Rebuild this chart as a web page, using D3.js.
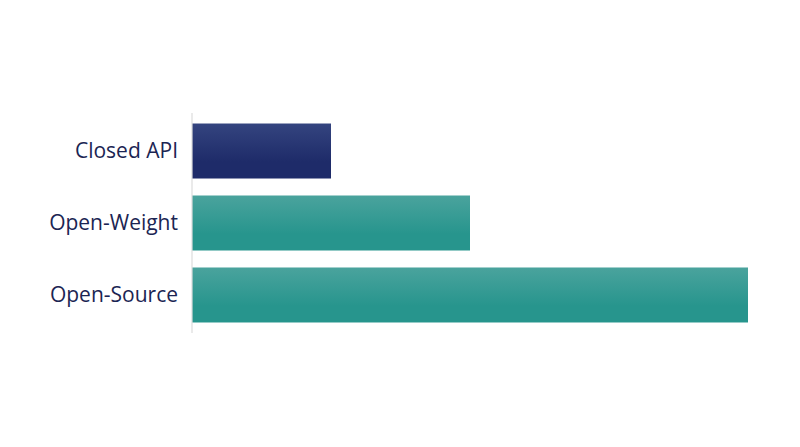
<!DOCTYPE html>
<html>
<head>
<meta charset="utf-8">
<script src="https://cdn.jsdelivr.net/npm/d3@7"></script>
<style>
  html, body { margin: 0; padding: 0; background: #fff; }
  svg { display: block; }
</style>
</head>
<body>
<div id="chart"></div>
<script>
// Chart data
var categories = ["Closed API", "Open-Weight", "Open-Source"];
var values = [1, 2, 4];
var barColors = ["#1e2b69", "#27958d", "#27958d"];
var barTops = ["#34447f", "#4aa39d", "#4aa39d"];

var width = 800, height = 447;

var svg = d3.select("#chart").append("svg")
  .attr("width", width).attr("height", height);

var x = d3.scaleLinear().domain([0, 4]).range([192, 748]);
var y = d3.scaleBand().domain(categories).range([113, 333])
  .paddingInner(0.236).paddingOuter(0.146);

// gradients, lighter at the top
var defs = svg.append("defs");
categories.forEach(function (c, i) {
  var g = defs.append("linearGradient").attr("id", "grad" + i)
    .attr("x1", 0).attr("y1", 0).attr("x2", 0).attr("y2", 1);
  g.append("stop").attr("offset", "0%").attr("stop-color", barTops[i]);
  g.append("stop").attr("offset", "70%").attr("stop-color", barColors[i]);
  g.append("stop").attr("offset", "100%").attr("stop-color", barColors[i]);
});

svg.selectAll("rect.bar").data(values).enter().append("rect")
  .attr("class", "bar")
  .attr("x", x(0))
  .attr("y", function (d, i) { return y(categories[i]); })
  .attr("width", function (d) { return x(d) - x(0); })
  .attr("height", y.bandwidth())
  .attr("fill", function (d, i) { return "url(#grad" + i + ")"; });

// baseline
svg.append("line")
  .attr("x1", x(0)).attr("x2", x(0))
  .attr("y1", 113).attr("y2", 333)
  .attr("stroke", "#dcdcdc").attr("stroke-width", 1.2);

// category labels
svg.selectAll("text.label").data(categories).enter().append("text")
  .attr("class", "label")
  .attr("x", 178)
  .attr("y", function (d) { return y(d) + y.bandwidth() / 2; })
  .attr("dy", "0.35em")
  .attr("text-anchor", "end")
  .style("font-family", "'Open Sans', sans-serif")
  .style("font-size", "21px")
  .style("fill", "#1b2553")
  .text(function (d) { return d; });
</script>
</body>
</html>
